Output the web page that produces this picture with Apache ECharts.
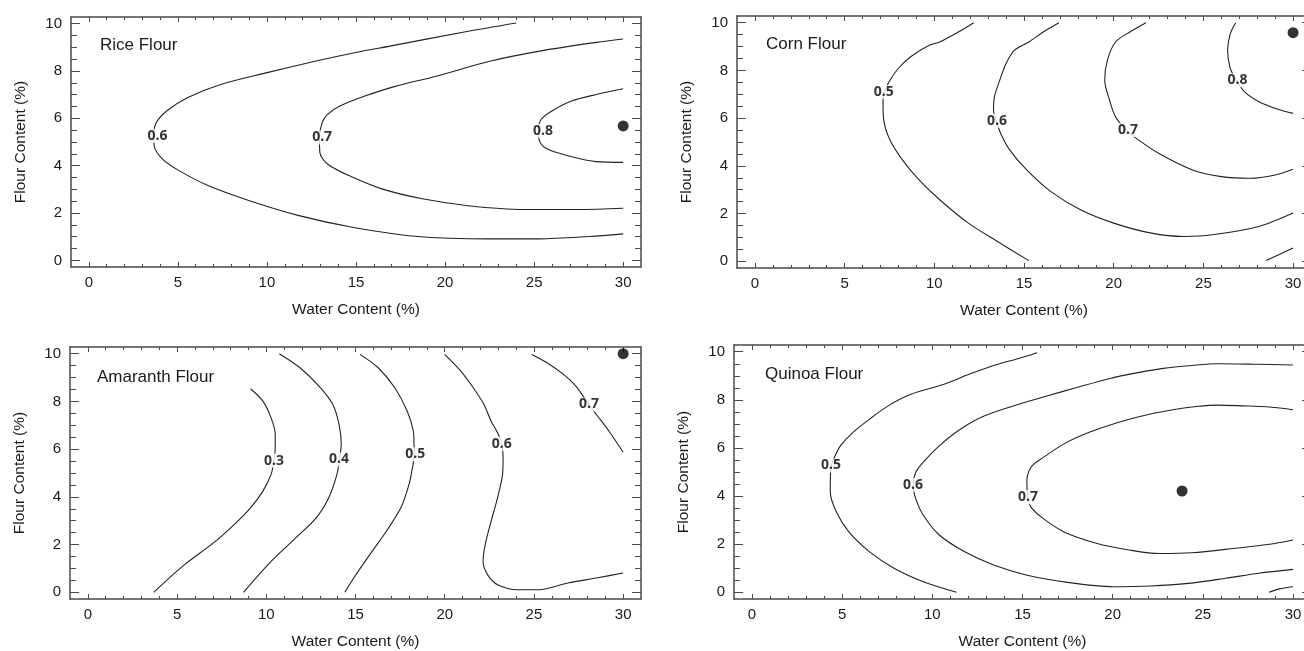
<!DOCTYPE html>
<html>
<head>
<meta charset="utf-8">
<script src="https://cdn.jsdelivr.net/npm/echarts@6/dist/echarts.min.js"></script>
<style>
  html, body { margin: 0; padding: 0; background: #fff; }
  #chart { width: 1304px; height: 651px; }
</style>
</head>
<body>
<div id="chart"></div>
<script>
// tick values
var xMajor = [0, 5, 10, 15, 20, 25, 30];
var xMinor = [0, 1, 2, 3, 4, 5, 6, 7, 8, 9, 10, 11, 12, 13, 14, 15, 16, 17, 18, 19, 20, 21, 22, 23, 24, 25, 26, 27, 28, 29, 30];
var yMajor = [0, 2, 4, 6, 8, 10];
var yMinor = [0, 0.5, 1, 1.5, 2, 2.5, 3, 3.5, 4, 4.5, 5, 5.5, 6, 6.5, 7, 7.5, 8, 8.5, 9, 9.5, 10];

var titles = ['Rice Flour', 'Corn Flour', 'Amaranth Flour', 'Quinoa Flour'];

// Rice flour contours [water, flour]
var rice06 = [[24.0, 10.03], [21.3, 9.68], [16.9, 9.05], [15.06, 8.79], [12.7, 8.41], [9.95, 7.92], [7.4, 7.43], [5.53, 6.87], [4.37, 6.31], [3.79, 5.82], [3.65, 5.3], [3.67, 4.84], [4.14, 4.28], [5.07, 3.79], [6.69, 3.16], [9.02, 2.52], [11.8, 1.89], [14.8, 1.4], [18.3, 1.02], [22.5, 0.91], [25.3, 0.91], [28.1, 1.01], [30, 1.12]];
var rice07 = [[30, 9.35], [28.5, 9.21], [25.3, 8.84], [22.5, 8.41], [19.5, 7.78], [17.15, 7.34], [15.5, 6.94], [14.1, 6.52], [13.4, 6.17], [13.1, 5.82], [12.95, 5.2], [12.97, 4.56], [13.4, 4.07], [14.6, 3.58], [16.45, 3.02], [18.8, 2.59], [21.3, 2.31], [24.4, 2.15], [27.6, 2.15], [30, 2.2]];
var rice08 = [[30, 7.25], [28.5, 7.01], [27.1, 6.73], [26.0, 6.31], [25.4, 5.96], [25.25, 5.5], [25.3, 5.05], [25.75, 4.7], [26.9, 4.42], [28.5, 4.17], [30, 4.14]];
var riceLabels = [[3.86, 5.26, '0.6'], [13.1, 5.19, '0.7'], [25.5, 5.47, '0.8']];
var riceOpt = [[30, 5.68]];

// Corn flour contours
var corn05 = [[12.2, 10.0], [11.34, 9.61], [10.3, 9.19], [9.72, 9.05], [8.68, 8.57], [7.99, 8.08], [7.53, 7.59], [7.2, 7.1], [7.14, 6.62], [7.18, 5.92], [7.53, 5.08], [8.22, 4.25], [9.15, 3.41], [10.3, 2.58], [11.9, 1.6], [13.5, 0.84], [15.27, 0.03]];
var corn06 = [[16.95, 10.0], [16.07, 9.61], [15.27, 9.19], [14.46, 8.84], [14.0, 8.29], [13.65, 7.59], [13.35, 6.89], [13.3, 6.34], [13.45, 5.89], [13.7, 5.36], [14.2, 4.67], [15.15, 3.83], [16.5, 2.92], [18.15, 2.16], [20.0, 1.6], [22.1, 1.18], [23.9, 1.04], [25.5, 1.11], [28.1, 1.46], [30, 2.02]];
var corn07 = [[21.8, 10.0], [20.9, 9.61], [20.1, 9.19], [19.65, 8.43], [19.5, 7.59], [19.77, 6.75], [20.1, 6.06], [20.7, 5.5], [21.4, 5.08], [22.5, 4.53], [24.4, 3.83], [26.0, 3.55], [27.6, 3.48], [29.0, 3.62], [30, 3.86]];
var corn08 = [[26.8, 10.0], [26.5, 9.54], [26.35, 8.84], [26.5, 8.08], [26.85, 7.59], [27.3, 7.1], [28.1, 6.69], [29.2, 6.36], [30, 6.2]];
var cornEdge = [[28.5, 0.03], [29.2, 0.28], [30, 0.56]];
var cornLabels = [[7.18, 7.1, '0.5'], [13.5, 5.89, '0.6'], [20.8, 5.5, '0.7'], [26.9, 7.59, '0.8']];
var cornOpt = [[30, 9.58]];

// Amaranth flour contours
var amar03 = [[9.12, 8.53], [9.81, 8.01], [10.27, 7.31], [10.5, 6.62], [10.5, 6.06], [10.43, 5.52], [10.27, 4.94], [9.81, 4.24], [9.12, 3.54], [8.2, 2.84], [7.04, 2.07], [5.42, 1.16], [3.69, 0]];
var amar04 = [[10.73, 10.0], [11.89, 9.41], [13.04, 8.57], [13.73, 7.87], [14.08, 7.03], [14.2, 6.2], [14.1, 5.57], [13.96, 4.94], [13.5, 3.96], [12.8, 3.12], [11.65, 2.28], [10.27, 1.3], [8.72, 0]];
var amar05 = [[15.25, 9.97], [16.27, 9.41], [17.2, 8.57], [17.9, 7.59], [18.24, 6.76], [18.28, 6.2], [18.3, 5.78], [18.19, 5.22], [18.0, 4.52], [17.54, 3.54], [16.73, 2.56], [15.8, 1.58], [14.9, 0.6], [14.4, 0]];
var amar06 = [[20.0, 9.97], [20.9, 9.27], [21.6, 8.57], [22.2, 7.87], [22.6, 7.17], [22.96, 6.69], [23.2, 6.22], [23.27, 5.64], [23.24, 4.94], [22.96, 3.96], [22.6, 2.98], [22.27, 2.0], [22.15, 1.3], [22.4, 0.74], [22.96, 0.32], [24.1, 0.11], [25.27, 0.11], [26.9, 0.39], [28.5, 0.6], [30, 0.81]];
var amar07 = [[24.88, 9.97], [25.73, 9.62], [26.66, 9.13], [27.35, 8.64], [28.0, 7.95], [28.5, 7.45], [29.2, 6.76], [30, 5.87]];
var amarLabels = [[10.43, 5.52, '0.3'], [14.08, 5.57, '0.4'], [18.35, 5.78, '0.5'], [23.2, 6.22, '0.6'], [28.09, 7.87, '0.7']];
var amarOpt = [[30, 10.0]];

// Quinoa flour contours
var quin05 = [[15.81, 9.96], [14.78, 9.72], [13.4, 9.43], [12.03, 9.06], [10.65, 8.65], [8.81, 8.23], [7.55, 7.75], [6.52, 7.2], [5.6, 6.65], [4.91, 6.1], [4.61, 5.68], [4.4, 5.27], [4.34, 4.72], [4.34, 4.17], [4.68, 3.34], [5.37, 2.51], [6.52, 1.68], [7.9, 0.99], [9.5, 0.44], [11.34, 0]];
var quin06 = [[30, 9.45], [27.9, 9.48], [25.8, 9.5], [24.4, 9.43], [22.8, 9.31], [21.4, 9.13], [19.8, 8.88], [18.0, 8.51], [16.4, 8.17], [14.8, 7.82], [12.9, 7.34], [11.57, 6.79], [10.4, 6.1], [9.5, 5.41], [9.08, 4.99], [8.93, 4.47], [9.08, 3.89], [9.5, 3.2], [10.4, 2.37], [11.8, 1.68], [13.4, 1.13], [15.2, 0.72], [17.5, 0.41], [20.06, 0.23], [22.1, 0.26], [24.2, 0.37], [26.26, 0.58], [28.1, 0.79], [30, 0.95]];
var quin07 = [[30, 7.59], [28.55, 7.71], [27.2, 7.75], [25.8, 7.78], [24.65, 7.72], [23.5, 7.61], [22.1, 7.41], [20.3, 7.06], [18.7, 6.65], [17.3, 6.17], [16.16, 5.61], [15.47, 5.2], [15.24, 4.58], [15.3, 3.96], [15.47, 3.54], [16.16, 3.06], [17.3, 2.51], [19.14, 2.03], [20.98, 1.75], [22.6, 1.61], [24.4, 1.64], [26.7, 1.82], [29.0, 2.03], [30, 2.17]];
var quinEdge = [[28.67, 0], [29.24, 0.14], [30, 0.23]];
var quinLabels = [[4.38, 5.27, '0.5'], [8.93, 4.47, '0.6'], [15.3, 3.96, '0.7']];
var quinOpt = [[23.85, 4.21]];

var panelLines = [
  [rice06, rice07, rice08],
  [corn05, corn06, corn07, corn08, cornEdge],
  [amar03, amar04, amar05, amar06, amar07],
  [quin05, quin06, quin07, quinEdge]
];
var panelLabels = [riceLabels, cornLabels, amarLabels, quinLabels];
var panelOpt = [riceOpt, cornOpt, amarOpt, quinOpt];

// layout of the four plots (right column runs past the picture edge)
var grids = [
  {left: 71, top: 17, width: 570, height: 250, outerBoundsMode: 'none'},
  {left: 737, top: 16, width: 574, height: 252, outerBoundsMode: 'none'},
  {left: 70, top: 347, width: 571, height: 252, outerBoundsMode: 'none'},
  {left: 734, top: 345, width: 577, height: 254, outerBoundsMode: 'none'}
];
var titlePos = [[100, 37], [766, 36], [97, 369], [765, 366]];

var FONT = '"Liberation Sans", Arial, sans-serif';
var AXIS_COLOR = '#4a4a4a';

var myChart = echarts.init(document.getElementById('chart'));

var xAxes = [];
var yAxes = [];
var series = [];

function xAx(g, pos, ticks, len, main) {
  var labelled = main && pos === 'bottom';
  return {
    type: 'value', gridIndex: g, position: pos, min: -1, max: 31,
    splitLine: {show: false},
    axisLine: {show: main, onZero: false, lineStyle: {color: AXIS_COLOR, width: 1.5}},
    axisTick: {show: true, inside: true, length: len, customValues: ticks, lineStyle: {color: AXIS_COLOR, width: 1}},
    axisLabel: {show: labelled, customValues: xMajor, margin: 8, color: '#1a1a1a', fontSize: 15, fontFamily: FONT},
    name: labelled ? 'Water Content (%)' : '',
    nameLocation: 'middle', nameGap: 35,
    nameTextStyle: {color: '#1a1a1a', fontSize: 15.5, fontFamily: FONT}
  };
}

function yAx(g, pos, ticks, len, main) {
  var labelled = main && pos === 'left';
  return {
    type: 'value', gridIndex: g, position: pos, min: -0.28, max: 10.28,
    splitLine: {show: false},
    axisLine: {show: main, onZero: false, lineStyle: {color: AXIS_COLOR, width: 1.5}},
    axisTick: {show: true, inside: true, length: len, customValues: ticks, lineStyle: {color: AXIS_COLOR, width: 1}},
    axisLabel: {show: labelled, customValues: yMajor, margin: 9, color: '#1a1a1a', fontSize: 15, fontFamily: FONT},
    name: labelled ? 'Flour Content (%)' : '',
    nameLocation: 'middle', nameGap: 42,
    nameTextStyle: {color: '#1a1a1a', fontSize: 15.5, fontFamily: FONT}
  };
}

grids.forEach(function (gr, g) {
  xAxes.push(xAx(g, 'bottom', xMajor, 5, true));
  xAxes.push(xAx(g, 'bottom', xMinor, 3, false));
  xAxes.push(xAx(g, 'top', xMajor, 5, true));
  xAxes.push(xAx(g, 'top', xMinor, 3, false));
  yAxes.push(yAx(g, 'left', yMajor, 9, true));
  yAxes.push(yAx(g, 'left', yMinor, 6, false));
  yAxes.push(yAx(g, 'right', yMajor, 9, true));
  yAxes.push(yAx(g, 'right', yMinor, 6, false));

  var xi = g * 4, yi = g * 4;
  panelLines[g].forEach(function (pts) {
    series.push({
      type: 'line', xAxisIndex: xi, yAxisIndex: yi, data: pts,
      showSymbol: false, smooth: 0.3, silent: true, z: 2,
      lineStyle: {color: '#222', width: 1.1}
    });
  });
  // contour level labels, sitting on the lines
  series.push({
    type: 'scatter', xAxisIndex: xi, yAxisIndex: yi, data: panelLabels[g],
    symbolSize: 1, silent: true, z: 3,
    itemStyle: {color: 'rgba(0,0,0,0)'},
    label: {
      show: true, position: 'inside',
      formatter: function (p) { return p.value[2]; },
      color: '#000', fontSize: 14, fontWeight: 'bold',
      fontFamily: '"Noto Sans", "Open Sans", sans-serif',
      backgroundColor: '#fff', padding: [0, 1]
    }
  });
  // optimum point
  series.push({
    type: 'scatter', xAxisIndex: xi, yAxisIndex: yi, data: panelOpt[g],
    symbolSize: 11, silent: true, z: 4,
    itemStyle: {color: '#000'}
  });
});

myChart.setOption({
  animation: false,
  backgroundColor: '#fff',
  title: titles.map(function (t, i) {
    return {
      text: t, left: titlePos[i][0], top: titlePos[i][1], padding: 0,
      textStyle: {color: '#1a1a1a', fontSize: 17, fontWeight: 'normal', fontFamily: FONT}
    };
  }),
  grid: grids,
  xAxis: xAxes,
  yAxis: yAxes,
  series: series
});
</script>
</body>
</html>
